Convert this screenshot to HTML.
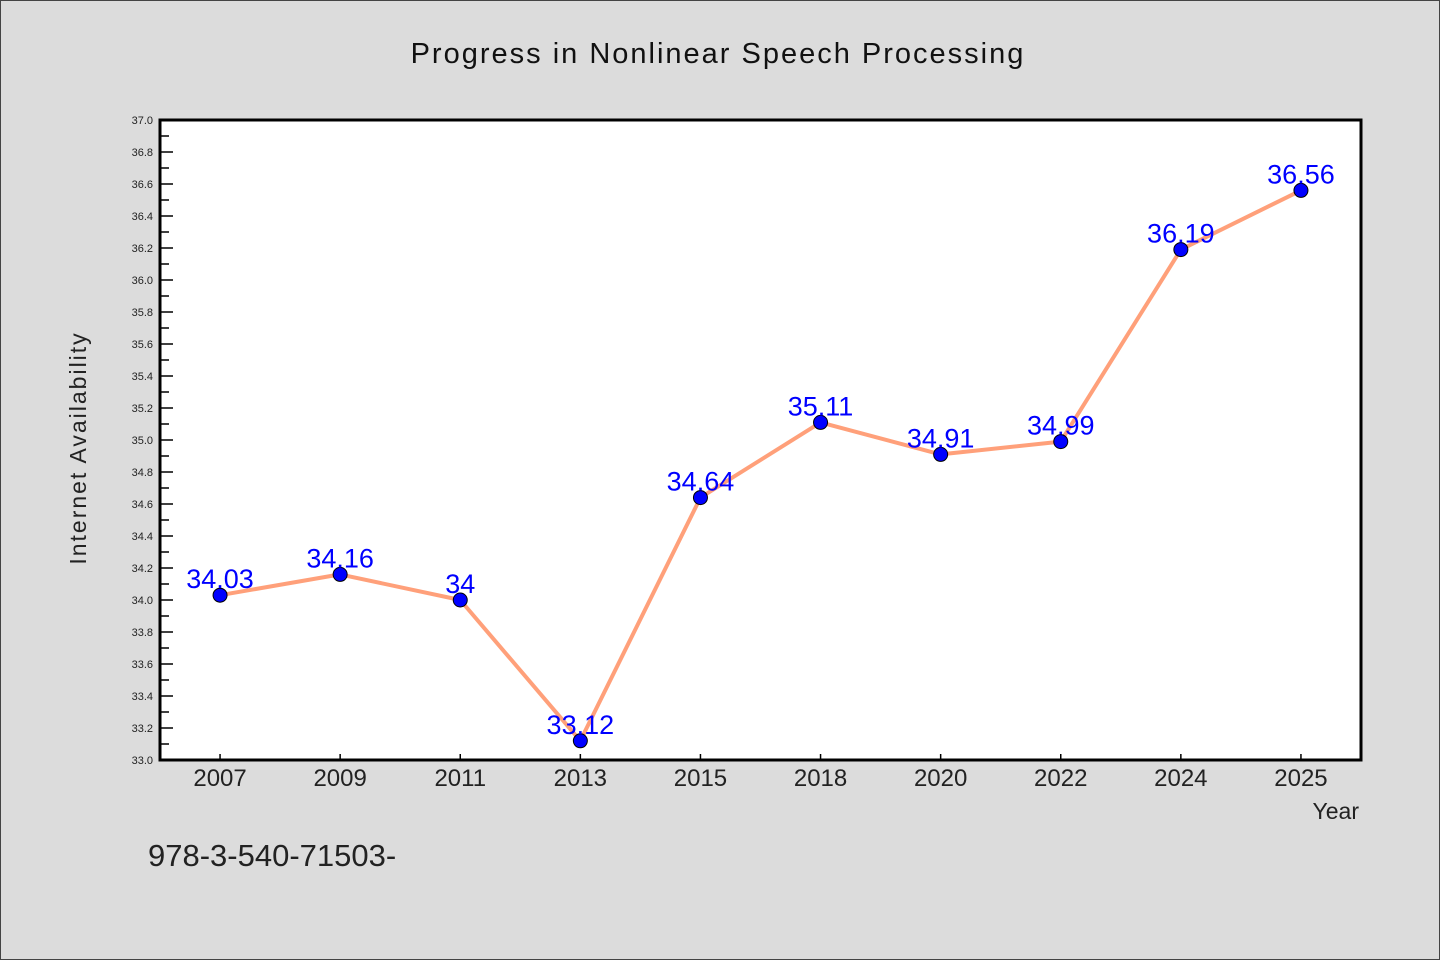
<!DOCTYPE html>
<html><head><meta charset="utf-8"><style>
html,body{margin:0;padding:0;background:#dcdcdc;}
svg{display:block;font-family:"WenQuanYi Zen Hei","Liberation Sans",sans-serif;}
</style></head><body>
<svg id="chart" width="1440" height="960" viewBox="0 0 1440 960">
<rect x="0.5" y="0.5" width="1439" height="959" fill="#dcdcdc" stroke="#444"/>
<text x="718" y="63" text-anchor="middle" font-size="29" fill="#111" letter-spacing="2">Progress in Nonlinear Speech Processing</text>
<rect x="160" y="120" width="1201" height="640" fill="#fff"/>
<g id="yticks"></g><g id="xticks"></g>
<polyline id="line" fill="none" stroke="#ffa07a" stroke-width="4" stroke-linejoin="round"/>
<g id="points"></g>
<g id="labels"></g>
<path d="M160,120 H1361 V760 H160 Z" fill="none" stroke="#000" stroke-width="3"/>
<text x="86" y="448" transform="rotate(-90 86 448)" text-anchor="middle" font-size="23" fill="#222" letter-spacing="2">Internet Availability</text>
<text x="1359" y="819" text-anchor="end" font-size="23" fill="#222">Year</text>
<text x="148" y="866" font-size="31" fill="#222">978-3-540-71503-</text>
</svg>
<script>
const categories=["2007","2009","2011","2013","2015","2018","2020","2022","2024","2025"];
const values=[34.03,34.16,34,33.12,34.64,35.11,34.91,34.99,36.19,36.56];
const valueLabels=["34.03","34.16","34","33.12","34.64","35.11","34.91","34.99","36.19","36.56"];
const yTicks=["33.0","33.2","33.4","33.6","33.8","34.0","34.2","34.4","34.6","34.8","35.0","35.2","35.4","35.6","35.8","36.0","36.2","36.4","36.6","36.8","37.0"];
const yMin=33,yMax=37,L=160,R=1361,T=120,B=760;
const ns="http://www.w3.org/2000/svg";
const band=(R-L)/categories.length;
const xs=i=>L+band*(i+0.5);
const ys=v=>B-(v-yMin)/(yMax-yMin)*(B-T);
function mk(t,a){const e=document.createElementNS(ns,t);for(const k in a)e.setAttribute(k,a[k]);return e;}
const yg=document.getElementById('yticks');
yTicks.forEach((t,i)=>{const v=parseFloat(t),y=ys(v);
 const ln=mk('line',{x1:L,x2:L+13,y1:y,y2:y,stroke:'#000','stroke-width':1.5});
 
 
 yg.appendChild(ln);
 const tx=mk('text',{x:153,y:y+4,'text-anchor':'end','font-size':11,fill:'#222'});tx.textContent=t;
 
 
 yg.appendChild(tx);
 if(i<yTicks.length-1){const m=ys(v+0.1);
  const mn=mk('line',{x1:L,x2:L+9,y1:m,y2:m,stroke:'#000','stroke-width':1.5});
  
  
  yg.appendChild(mn);}
});
const xg=document.getElementById('xticks');
categories.forEach((c,i)=>{const x=xs(i);
 const ln=mk('line',{x1:x,x2:x,y1:B,y2:B-6,stroke:'#000','stroke-width':1.5});
 
 
 xg.appendChild(ln);
 const tx=mk('text',{x:x,y:786,'text-anchor':'middle','font-size':24,fill:'#222'});tx.textContent=c;
 
 
 xg.appendChild(tx);
});
document.getElementById('line').setAttribute('points',values.map((v,i)=>xs(i)+','+ys(v)).join(' '));
const pg=document.getElementById('points'),lg=document.getElementById('labels');
values.forEach((v,i)=>{
 const c=mk('circle',{cx:xs(i),cy:ys(v),r:7,fill:'#0000ff',stroke:'#000','stroke-width':1});
 
 
 pg.appendChild(c);
 const t=mk('text',{x:xs(i),y:ys(v)-7,'text-anchor':'middle','font-size':27,fill:'#0000ff'});t.textContent=valueLabels[i];
 
 
 lg.appendChild(t);
});
</script>
</body></html>
